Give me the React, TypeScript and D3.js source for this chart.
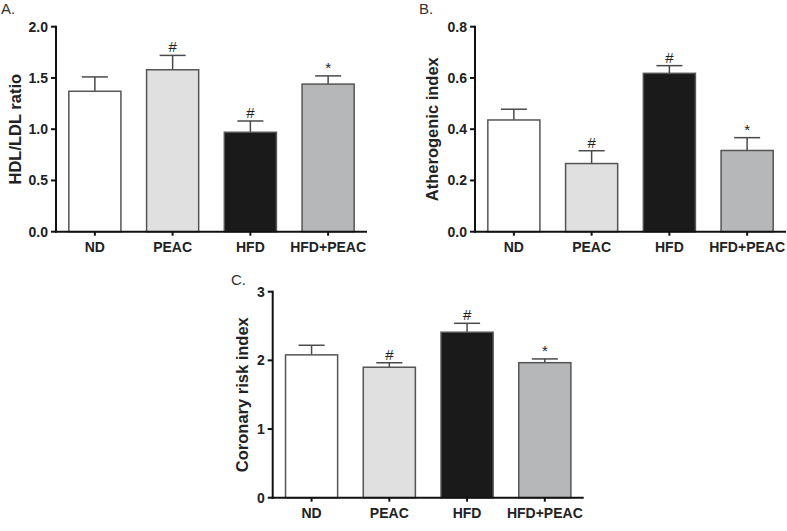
import React from "react";
import * as d3 from "d3";

const groups = ["ND", "PEAC", "HFD", "HFD+PEAC"];
const groupColors = ["#ffffff", "#e0e0e0", "#1a1a1a", "#b6b7b9"];

// panel A
const hdlMean = [1.37, 1.58, 0.97, 1.44];
const hdlErr = [0.14, 0.14, 0.11, 0.08];
const hdlMarks = ["", "#", "#", "*"];
const hdlTicks = [0, 0.5, 1.0, 1.5, 2.0];

// panel B
const atheroMean = [0.436, 0.266, 0.618, 0.317];
const atheroErr = [0.042, 0.05, 0.03, 0.05];
const atheroMarks = ["", "#", "#", "*"];
const atheroTicks = [0, 0.2, 0.4, 0.6, 0.8];

// panel C
const coronaryMean = [2.08, 1.9, 2.41, 1.966];
const coronaryErr = [0.14, 0.065, 0.13, 0.055];
const coronaryMarks = ["", "#", "#", "*"];
const coronaryTicks = [0, 1, 2, 3];

const font = "'Liberation Sans', Arial, sans-serif";

type PanelProps = {
  letter: string;
  label: string;
  mean: number[];
  err: number[];
  marks: string[];
  ticks: number[];
  fmt: string;
  left: number;
  top: number;
  bottom: number;
  labelOffset: number;
  letterX: number;
  letterY: number;
};

const Panel = (p: PanelProps) => {
  const width = 311;
  const x = d3
    .scaleBand<string>()
    .domain(groups)
    .range([p.left, p.left + width])
    .paddingInner(0.33)
    .paddingOuter(0.165);
  const y = d3
    .scaleLinear()
    .domain([0, p.ticks[p.ticks.length - 1]])
    .range([p.bottom, p.top]);
  const format = d3.format(p.fmt);
  const bw = x.bandwidth();
  const cap = bw / 2;

  return (
    <g>
      <text x={p.letterX} y={p.letterY} fontSize={15} fill="#333" fontFamily={font}>
        {p.letter}
      </text>
      {groups.map((g, i) => {
        const cx = x(g)! + bw / 2;
        const yTop = y(p.mean[i]);
        const yErr = y(p.mean[i] + p.err[i]);
        return (
          <g key={g}>
            <line x1={cx} x2={cx} y1={yTop} y2={yErr} stroke="#4a4a4a" strokeWidth={1.5} />
            <line x1={cx - cap / 2} x2={cx + cap / 2} y1={yErr} y2={yErr} stroke="#4a4a4a" strokeWidth={1.5} />
            <rect
              x={x(g)}
              y={yTop}
              width={bw}
              height={p.bottom - yTop}
              fill={groupColors[i]}
              stroke="#555"
              strokeWidth={1.5}
            />
            {p.marks[i] && (
              <text
                x={cx}
                y={yErr - 3}
                textAnchor="middle"
                fontSize={15}
                fill="#222"
                fontFamily={font}
              >
                {p.marks[i]}
              </text>
            )}
            <line x1={cx} x2={cx} y1={p.bottom} y2={p.bottom + 4} stroke="#111" strokeWidth={2} />
            <text
              x={cx}
              y={p.bottom + 20}
              textAnchor="middle"
              fontSize={14}
              fontWeight="bold"
              fill="#222"
              fontFamily={font}
            >
              {g}
            </text>
          </g>
        );
      })}
      {p.ticks.map((t) => (
        <g key={t}>
          <line x1={p.left - 5} x2={p.left} y1={y(t)} y2={y(t)} stroke="#111" strokeWidth={2} />
          <text
            x={p.left - 8}
            y={y(t)}
            dy="0.35em"
            textAnchor="end"
            fontSize={14}
            fontWeight="bold"
            fill="#222"
            fontFamily={font}
          >
            {format(t)}
          </text>
        </g>
      ))}
      <line x1={p.left} x2={p.left} y1={p.top - 1} y2={p.bottom + 1} stroke="#111" strokeWidth={2} />
      <line x1={p.left - 1} x2={p.left + width} y1={p.bottom} y2={p.bottom} stroke="#111" strokeWidth={2} />
      <text
        transform={`translate(${p.left - p.labelOffset},${(p.top + p.bottom) / 2}) rotate(-90)`}
        dy="0.35em"
        textAnchor="middle"
        fontSize={16.5}
        fontWeight="bold"
        fill="#222"
        fontFamily={font}
      >
        {p.label}
      </text>
    </g>
  );
};

export default function App() {
  return (
    <svg
      width={787}
      height={531}
      style={{ position: "absolute", left: 0, top: 0, background: "#fff" }}
    >
      <rect width={787} height={531} fill="#fff" />
      <Panel
        letter="A."
        label="HDL/LDL ratio"
        mean={hdlMean}
        err={hdlErr}
        marks={hdlMarks}
        ticks={hdlTicks}
        fmt=".1f"
        left={56}
        top={26.7}
        bottom={231.7}
        labelOffset={41}
        letterX={1}
        letterY={14}
      />
      <Panel
        letter="B."
        label="Atherogenic index"
        mean={atheroMean}
        err={atheroErr}
        marks={atheroMarks}
        ticks={atheroTicks}
        fmt=".1f"
        left={475}
        top={26.7}
        bottom={231.7}
        labelOffset={43}
        letterX={419}
        letterY={14}
      />
      <Panel
        letter="C."
        label="Coronary risk index"
        mean={coronaryMean}
        err={coronaryErr}
        marks={coronaryMarks}
        ticks={coronaryTicks}
        fmt="d"
        left={272.7}
        top={291.7}
        bottom={497.7}
        labelOffset={30}
        letterX={231}
        letterY={285}
      />
    </svg>
  );
}
